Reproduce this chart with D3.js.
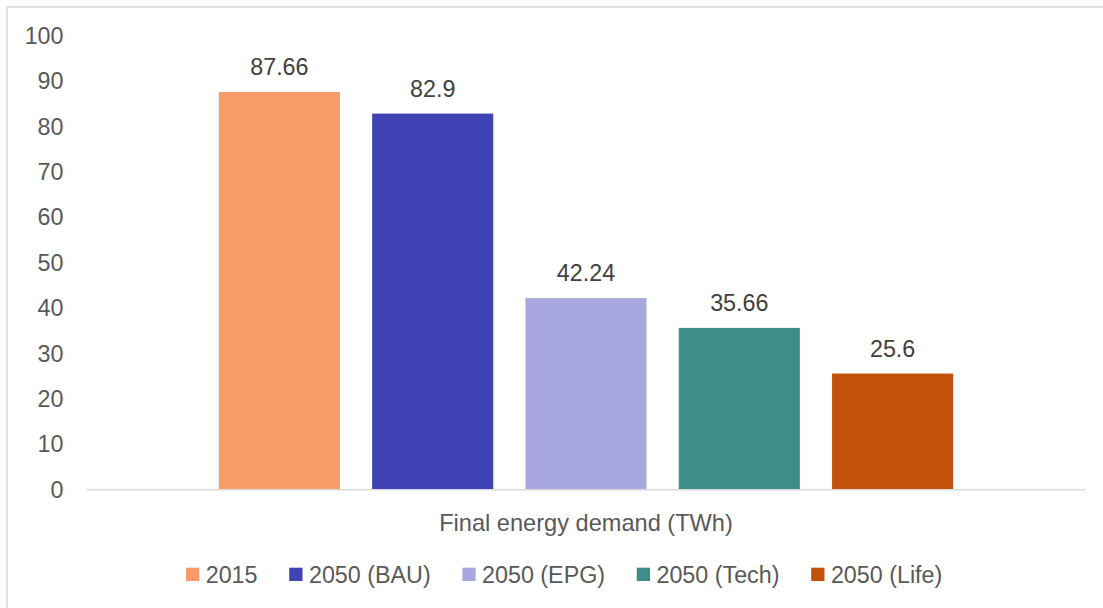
<!DOCTYPE html>
<html>
<head>
<meta charset="utf-8">
<script src="https://cdn.jsdelivr.net/npm/d3@7"></script>
<style>
  html, body { margin: 0; padding: 0; background: #fff; }
  svg { display: block; font-family: "Liberation Sans", Arial, sans-serif; }
</style>
</head>
<body>
<svg id="chart" width="1103" height="608"></svg>
<script>
// Final energy demand by scenario (TWh)
const categoryLabel = "Final energy demand (TWh)";
const seriesNames = ["2015", "2050 (BAU)", "2050 (EPG)", "2050 (Tech)", "2050 (Life)"];
const seriesValues = [87.66, 82.9, 42.24, 35.66, 25.6];
const seriesColors = ["#F79C68", "#4043B3", "#A8A7DF", "#3D8D88", "#C2510B"];
const yTicks = [0, 10, 20, 30, 40, 50, 60, 70, 80, 90, 100];

const svg = d3.select("#chart");
const W = 1103, H = 608;
const plot = { left: 87, right: 1085, top: 36, bottom: 489.7 };
const fontSize = 23.3;
const titleSize = 23.6;

// Outer chart frame
svg.append("rect")
  .attr("x", 7).attr("y", 7)
  .attr("width", W + 20).attr("height", H + 20)
  .attr("fill", "#fff")
  .attr("stroke", "#D9D9D9")
  .attr("stroke-width", 1.5);

const x = d3.scaleBand()
  .domain(seriesNames)
  .range([plot.left, plot.right])
  .paddingInner(0.21)
  .paddingOuter(0.86);

const y = d3.scaleLinear()
  .domain([0, 100])
  .range([plot.bottom, plot.top]);

// Value axis labels (no axis line, no gridlines)
const yAxis = svg.append("g")
  .attr("transform", `translate(${plot.left - 23.5},0)`)
  .call(d3.axisLeft(y).tickValues(yTicks).tickSize(0).tickPadding(0).tickFormat(d3.format("d")));
yAxis.select(".domain").remove();
yAxis.selectAll("text")
  .attr("fill", "#595959")
  .style("font-size", fontSize + "px")
  .style("font-family", "'Liberation Sans', Arial, sans-serif");

// Bars
const data = seriesNames.map((name, i) => ({ name, value: seriesValues[i], color: seriesColors[i] }));

svg.append("g").selectAll("rect")
  .data(data)
  .join("rect")
  .attr("x", d => x(d.name))
  .attr("y", d => y(d.value))
  .attr("width", x.bandwidth())
  .attr("height", d => y(0) - y(d.value))
  .attr("fill", d => d.color);

// Category axis line
svg.append("line")
  .attr("x1", plot.left).attr("x2", plot.right)
  .attr("y1", y(0)).attr("y2", y(0))
  .attr("stroke", "#D9D9D9")
  .attr("stroke-width", 1.5);

// Data labels
svg.append("g").selectAll("text")
  .data(data)
  .join("text")
  .attr("x", d => x(d.name) + x.bandwidth() / 2)
  .attr("y", d => y(d.value) - 17)
  .attr("text-anchor", "middle")
  .attr("fill", "#404040")
  .style("font-size", fontSize + "px")
  .text(d => d.value);

// Category label
svg.append("text")
  .attr("x", (plot.left + plot.right) / 2)
  .attr("y", 530.5)
  .attr("text-anchor", "middle")
  .attr("fill", "#595959")
  .style("font-size", titleSize + "px")
  .text(categoryLabel);

// Legend
const legend = svg.append("g");
const sw = 13.3, swGap = 6.4, itemGap = 31.7;
let cx = 186;
data.forEach(d => {
  const item = legend.append("g");
  item.append("rect")
    .attr("x", cx).attr("y", 567.7)
    .attr("width", sw).attr("height", sw)
    .attr("fill", d.color);
  const t = item.append("text")
    .attr("x", cx + sw + swGap)
    .attr("y", 583)
    .attr("fill", "#595959")
    .style("font-size", fontSize + "px")
    .text(d.name);
  cx += sw + swGap + t.node().getComputedTextLength() + itemGap;
});
</script>
</body>
</html>
